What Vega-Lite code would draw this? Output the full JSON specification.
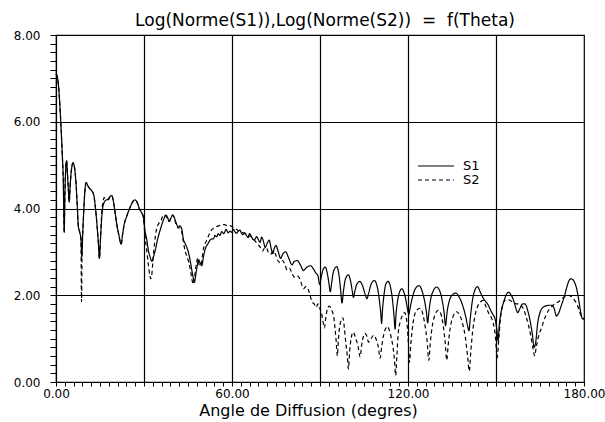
{
"$schema": "https://vega.github.io/schema/vega-lite/v6.json",
"width": 528, "height": 347,
"autosize": {"type": "none"},
"padding": {"left": 56, "top": 35, "right": 21, "bottom": 40},
"background": "white",
"config": {"view": {"stroke": "black", "strokeWidth": 1.2}, "font": "DejaVu Sans"},
"title": {"text": "Log(Norme(S1)),Log(Norme(S2))\u00a0\u00a0=\u00a0\u00a0f(Theta)", "fontSize": 17, "fontWeight": "normal", "font": "DejaVu Sans", "color": "black", "offset": 6, "dy": 7, "dx": 5},
"data": {"values": [
{"s":"S1","t":0,"v":7.1},{"s":"S1","t":0.4,"v":7.05},{"s":"S1","t":0.9,"v":6.8},{"s":"S1","t":1.3,"v":6.4},{"s":"S1","t":1.7,"v":5.9},{"s":"S1","t":2.1,"v":5.3},{"s":"S1","t":2.5,"v":4.6},{"s":"S1","t":2.8,"v":3.45},{"s":"S1","t":3.0,"v":4.2},{"s":"S1","t":3.3,"v":4.9},{"s":"S1","t":3.6,"v":5.1},{"s":"S1","t":3.9,"v":4.8},{"s":"S1","t":4.2,"v":4.45},{"s":"S1","t":4.5,"v":4.15},{"s":"S1","t":4.8,"v":4.5},{"s":"S1","t":5.2,"v":4.85},{"s":"S1","t":5.8,"v":5.05},{"s":"S1","t":6.3,"v":4.95},{"s":"S1","t":6.8,"v":4.6},{"s":"S1","t":7.3,"v":4.0},{"s":"S1","t":7.6,"v":3.6},{"s":"S1","t":8.1,"v":3.45},{"s":"S1","t":8.5,"v":3.3},{"s":"S1","t":8.8,"v":2.88},{"s":"S1","t":9.1,"v":3.4},{"s":"S1","t":9.5,"v":4.0},{"s":"S1","t":9.9,"v":4.45},{"s":"S1","t":10.3,"v":4.6},{"s":"S1","t":10.9,"v":4.52},{"s":"S1","t":11.6,"v":4.45},{"s":"S1","t":12.3,"v":4.4},{"s":"S1","t":12.9,"v":4.3},{"s":"S1","t":13.5,"v":3.98},{"s":"S1","t":14.0,"v":3.6},{"s":"S1","t":14.4,"v":3.25},{"s":"S1","t":14.8,"v":2.85},{"s":"S1","t":15.1,"v":3.2},{"s":"S1","t":15.5,"v":3.7},{"s":"S1","t":16.0,"v":4.05},{"s":"S1","t":16.8,"v":4.18},{"s":"S1","t":17.8,"v":4.22},{"s":"S1","t":18.5,"v":4.28},{"s":"S1","t":19.0,"v":4.3},{"s":"S1","t":19.6,"v":4.15},{"s":"S1","t":20.2,"v":3.88},{"s":"S1","t":20.8,"v":3.6},{"s":"S1","t":21.4,"v":3.4},{"s":"S1","t":22.2,"v":3.18},{"s":"S1","t":22.7,"v":3.4},{"s":"S1","t":23.3,"v":3.65},{"s":"S1","t":24.0,"v":3.8},{"s":"S1","t":24.8,"v":3.95},{"s":"S1","t":25.6,"v":4.08},{"s":"S1","t":26.3,"v":4.17},{"s":"S1","t":26.9,"v":4.2},{"s":"S1","t":27.6,"v":4.15},{"s":"S1","t":28.4,"v":4.0},{"s":"S1","t":29.2,"v":3.9},{"s":"S1","t":29.8,"v":3.8},{"s":"S1","t":30.3,"v":3.5},{"s":"S1","t":30.9,"v":3.3},{"s":"S1","t":31.5,"v":3.03},{"s":"S1","t":32.1,"v":2.88},{"s":"S1","t":32.7,"v":2.78},{"s":"S1","t":33.3,"v":2.9},{"s":"S1","t":33.9,"v":3.05},{"s":"S1","t":34.5,"v":3.25},{"s":"S1","t":35.5,"v":3.5},{"s":"S1","t":36.6,"v":3.73},{"s":"S1","t":37.5,"v":3.85},{"s":"S1","t":38.1,"v":3.78},{"s":"S1","t":38.6,"v":3.7},{"s":"S1","t":39.2,"v":3.78},{"s":"S1","t":39.8,"v":3.85},{"s":"S1","t":40.4,"v":3.78},{"s":"S1","t":40.9,"v":3.68},{"s":"S1","t":41.7,"v":3.57},{"s":"S1","t":42.3,"v":3.6},{"s":"S1","t":42.9,"v":3.52},{"s":"S1","t":43.4,"v":3.3},{"s":"S1","t":44.0,"v":3.2},{"s":"S1","t":44.6,"v":3.1},{"s":"S1","t":45.1,"v":3.0},{"s":"S1","t":45.6,"v":2.85},{"s":"S1","t":46.3,"v":2.58},{"s":"S1","t":46.8,"v":2.4},{"s":"S1","t":47.2,"v":2.3},{"s":"S1","t":47.6,"v":2.45},{"s":"S1","t":48.0,"v":2.62},{"s":"S1","t":48.6,"v":2.82},{"s":"S1","t":49.1,"v":2.75},{"s":"S1","t":49.7,"v":2.68},{"s":"S1","t":50.3,"v":2.9},{"s":"S1","t":50.8,"v":3.05},{"s":"S1","t":51.4,"v":3.15},{"s":"S1","t":51.9,"v":3.2},{"s":"S1","t":52.5,"v":3.27},{"s":"S1","t":53.1,"v":3.3},{"s":"S1","t":53.7,"v":3.3},{"s":"S1","t":54.2,"v":3.38},{"s":"S1","t":54.8,"v":3.35},{"s":"S1","t":55.3,"v":3.42},{"s":"S1","t":55.9,"v":3.38},{"s":"S1","t":56.5,"v":3.47},{"s":"S1","t":57.2,"v":3.42},{"s":"S1","t":58.0,"v":3.52},{"s":"S1","t":58.7,"v":3.44},{"s":"S1","t":59.3,"v":3.48},{"s":"S1","t":59.9,"v":3.45},{"s":"S1","t":60.5,"v":3.52},{"s":"S1","t":61.0,"v":3.46},{"s":"S1","t":61.6,"v":3.43},{"s":"S1","t":62.1,"v":3.48},{"s":"S1","t":62.7,"v":3.5},{"s":"S1","t":63.3,"v":3.42},{"s":"S1","t":63.8,"v":3.4},{"s":"S1","t":64.4,"v":3.44},{"s":"S1","t":64.9,"v":3.38},{"s":"S1","t":65.5,"v":3.33},{"s":"S1","t":66.0,"v":3.42},{"s":"S1","t":66.6,"v":3.36},{"s":"S1","t":67.3,"v":3.28},{"s":"S1","t":67.9,"v":3.3},{"s":"S1","t":68.4,"v":3.35},{"s":"S1","t":69.0,"v":3.28},{"s":"S1","t":69.6,"v":3.22},{"s":"S1","t":70.1,"v":3.34},{"s":"S1","t":70.7,"v":3.25},{"s":"S1","t":71.3,"v":3.1},{"s":"S1","t":72.0,"v":3.2},{"s":"S1","t":72.7,"v":3.27},{"s":"S1","t":73.3,"v":3.1},{"s":"S1","t":73.9,"v":2.96},{"s":"S1","t":74.4,"v":3.08},{"s":"S1","t":75.0,"v":3.15},{"s":"S1","t":75.7,"v":3.02},{"s":"S1","t":76.6,"v":2.85},{"s":"S1","t":77.3,"v":2.95},{"s":"S1","t":78.3,"v":3.0},{"s":"S1","t":79.2,"v":2.88},{"s":"S1","t":80.5,"v":2.7},{"s":"S1","t":81.2,"v":2.78},{"s":"S1","t":82.3,"v":2.8},{"s":"S1","t":83.3,"v":2.7},{"s":"S1","t":84.4,"v":2.57},{"s":"S1","t":85.2,"v":2.63},{"s":"S1","t":86.8,"v":2.68},{"s":"S1","t":87.8,"v":2.6},{"s":"S1","t":88.5,"v":2.52},{"s":"S1","t":89.3,"v":2.45},{"s":"S1","t":89.9,"v":2.25},{"s":"S1","t":90.5,"v":2.45},{"s":"S1","t":91.1,"v":2.6},{"s":"S1","t":91.8,"v":2.65},{"s":"S1","t":92.5,"v":2.5},{"s":"S1","t":93.0,"v":2.3},{"s":"S1","t":93.5,"v":2.08},{"s":"S1","t":94.0,"v":2.3},{"s":"S1","t":94.6,"v":2.55},{"s":"S1","t":95.7,"v":2.66},{"s":"S1","t":96.5,"v":2.45},{"s":"S1","t":97.0,"v":2.15},{"s":"S1","t":97.5,"v":1.82},{"s":"S1","t":98.0,"v":2.1},{"s":"S1","t":98.7,"v":2.38},{"s":"S1","t":99.7,"v":2.47},{"s":"S1","t":100.5,"v":2.3},{"s":"S1","t":101.0,"v":2.1},{"s":"S1","t":101.4,"v":1.95},{"s":"S1","t":101.9,"v":2.1},{"s":"S1","t":102.6,"v":2.26},{"s":"S1","t":103.6,"v":2.32},{"s":"S1","t":104.6,"v":2.2},{"s":"S1","t":105.4,"v":2.02},{"s":"S1","t":106.0,"v":1.92},{"s":"S1","t":106.6,"v":2.05},{"s":"S1","t":107.4,"v":2.25},{"s":"S1","t":108.5,"v":2.34},{"s":"S1","t":109.5,"v":2.2},{"s":"S1","t":110.3,"v":1.85},{"s":"S1","t":110.7,"v":1.6},{"s":"S1","t":111.0,"v":1.35},{"s":"S1","t":111.3,"v":1.65},{"s":"S1","t":111.8,"v":2.0},{"s":"S1","t":112.4,"v":2.25},{"s":"S1","t":113.2,"v":2.32},{"s":"S1","t":114.0,"v":2.2},{"s":"S1","t":114.7,"v":1.9},{"s":"S1","t":115.2,"v":1.55},{"s":"S1","t":115.6,"v":1.22},{"s":"S1","t":115.9,"v":1.55},{"s":"S1","t":116.4,"v":1.85},{"s":"S1","t":117.0,"v":2.05},{"s":"S1","t":117.9,"v":2.15},{"s":"S1","t":118.7,"v":2.05},{"s":"S1","t":119.4,"v":1.85},{"s":"S1","t":120.0,"v":1.62},{"s":"S1","t":120.3,"v":1.56},{"s":"S1","t":120.7,"v":1.7},{"s":"S1","t":121.5,"v":1.95},{"s":"S1","t":122.5,"v":2.15},{"s":"S1","t":123.8,"v":2.22},{"s":"S1","t":124.8,"v":2.1},{"s":"S1","t":125.7,"v":1.85},{"s":"S1","t":126.3,"v":1.6},{"s":"S1","t":126.7,"v":1.36},{"s":"S1","t":127.1,"v":1.6},{"s":"S1","t":127.7,"v":1.9},{"s":"S1","t":128.6,"v":2.1},{"s":"S1","t":129.7,"v":2.19},{"s":"S1","t":130.7,"v":2.12},{"s":"S1","t":131.6,"v":1.9},{"s":"S1","t":132.3,"v":1.6},{"s":"S1","t":132.8,"v":1.3},{"s":"S1","t":133.3,"v":1.6},{"s":"S1","t":134.0,"v":1.85},{"s":"S1","t":135.0,"v":2.0},{"s":"S1","t":136.3,"v":2.05},{"s":"S1","t":137.5,"v":1.95},{"s":"S1","t":138.7,"v":1.75},{"s":"S1","t":139.7,"v":1.5},{"s":"S1","t":140.3,"v":1.3},{"s":"S1","t":140.8,"v":1.18},{"s":"S1","t":141.2,"v":1.45},{"s":"S1","t":141.9,"v":1.85},{"s":"S1","t":142.8,"v":2.12},{"s":"S1","t":143.7,"v":2.2},{"s":"S1","t":144.6,"v":2.08},{"s":"S1","t":145.5,"v":1.95},{"s":"S1","t":146.5,"v":1.85},{"s":"S1","t":147.3,"v":1.78},{"s":"S1","t":148.2,"v":1.65},{"s":"S1","t":149.0,"v":1.55},{"s":"S1","t":149.7,"v":1.45},{"s":"S1","t":150.3,"v":1.2},{"s":"S1","t":150.7,"v":0.95},{"s":"S1","t":151.1,"v":1.3},{"s":"S1","t":151.7,"v":1.6},{"s":"S1","t":152.5,"v":1.82},{"s":"S1","t":153.3,"v":1.98},{"s":"S1","t":154.2,"v":2.07},{"s":"S1","t":155.0,"v":2.02},{"s":"S1","t":155.9,"v":1.9},{"s":"S1","t":156.7,"v":1.72},{"s":"S1","t":157.4,"v":1.6},{"s":"S1","t":158.2,"v":1.7},{"s":"S1","t":159.1,"v":1.8},{"s":"S1","t":159.9,"v":1.8},{"s":"S1","t":160.8,"v":1.65},{"s":"S1","t":161.6,"v":1.42},{"s":"S1","t":162.4,"v":1.1},{"s":"S1","t":163.0,"v":0.8},{"s":"S1","t":163.5,"v":0.9},{"s":"S1","t":164.2,"v":1.35},{"s":"S1","t":165.0,"v":1.6},{"s":"S1","t":166.0,"v":1.72},{"s":"S1","t":167.3,"v":1.76},{"s":"S1","t":168.8,"v":1.77},{"s":"S1","t":169.8,"v":1.7},{"s":"S1","t":170.6,"v":1.52},{"s":"S1","t":171.3,"v":1.58},{"s":"S1","t":172.2,"v":1.75},{"s":"S1","t":173.2,"v":1.95},{"s":"S1","t":174.2,"v":2.2},{"s":"S1","t":175.0,"v":2.35},{"s":"S1","t":175.7,"v":2.38},{"s":"S1","t":176.6,"v":2.32},{"s":"S1","t":177.5,"v":2.15},{"s":"S1","t":178.3,"v":1.85},{"s":"S1","t":178.9,"v":1.6},{"s":"S1","t":179.4,"v":1.47},{"s":"S1","t":180.0,"v":1.46},
{"s":"S2","t":0,"v":7.1},{"s":"S2","t":0.4,"v":7.05},{"s":"S2","t":0.9,"v":6.8},{"s":"S2","t":1.3,"v":6.4},{"s":"S2","t":1.7,"v":5.9},{"s":"S2","t":2.1,"v":5.3},{"s":"S2","t":2.5,"v":4.6},{"s":"S2","t":2.8,"v":3.45},{"s":"S2","t":3.0,"v":4.2},{"s":"S2","t":3.3,"v":4.9},{"s":"S2","t":3.6,"v":5.1},{"s":"S2","t":3.9,"v":4.8},{"s":"S2","t":4.2,"v":4.45},{"s":"S2","t":4.5,"v":4.15},{"s":"S2","t":4.8,"v":4.5},{"s":"S2","t":5.2,"v":4.85},{"s":"S2","t":5.8,"v":5.05},{"s":"S2","t":6.3,"v":4.95},{"s":"S2","t":6.8,"v":4.6},{"s":"S2","t":7.3,"v":4.0},{"s":"S2","t":7.6,"v":3.6},{"s":"S2","t":8.1,"v":3.45},{"s":"S2","t":8.5,"v":3.3},{"s":"S2","t":8.7,"v":1.85},{"s":"S2","t":8.9,"v":3.1},{"s":"S2","t":9.1,"v":3.4},{"s":"S2","t":9.5,"v":4.0},{"s":"S2","t":9.9,"v":4.45},{"s":"S2","t":10.3,"v":4.6},{"s":"S2","t":10.9,"v":4.52},{"s":"S2","t":11.6,"v":4.45},{"s":"S2","t":12.3,"v":4.4},{"s":"S2","t":12.9,"v":4.3},{"s":"S2","t":13.5,"v":3.98},{"s":"S2","t":14.0,"v":3.6},{"s":"S2","t":14.4,"v":3.25},{"s":"S2","t":14.8,"v":2.85},{"s":"S2","t":15.1,"v":3.2},{"s":"S2","t":15.5,"v":3.8},{"s":"S2","t":16.0,"v":4.15},{"s":"S2","t":16.4,"v":4.25},{"s":"S2","t":17.0,"v":4.22},{"s":"S2","t":17.8,"v":4.2},{"s":"S2","t":18.5,"v":4.28},{"s":"S2","t":19.0,"v":4.3},{"s":"S2","t":19.6,"v":4.15},{"s":"S2","t":20.2,"v":3.88},{"s":"S2","t":20.8,"v":3.6},{"s":"S2","t":21.4,"v":3.4},{"s":"S2","t":22.2,"v":3.18},{"s":"S2","t":22.7,"v":3.4},{"s":"S2","t":23.3,"v":3.65},{"s":"S2","t":24.0,"v":3.8},{"s":"S2","t":24.8,"v":3.95},{"s":"S2","t":25.6,"v":4.08},{"s":"S2","t":26.3,"v":4.17},{"s":"S2","t":26.9,"v":4.2},{"s":"S2","t":27.6,"v":4.15},{"s":"S2","t":28.4,"v":4.0},{"s":"S2","t":29.2,"v":3.9},{"s":"S2","t":29.8,"v":3.8},{"s":"S2","t":30.3,"v":3.4},{"s":"S2","t":30.9,"v":3.05},{"s":"S2","t":31.5,"v":2.7},{"s":"S2","t":32.0,"v":2.45},{"s":"S2","t":32.3,"v":2.38},{"s":"S2","t":32.7,"v":2.5},{"s":"S2","t":33.1,"v":2.85},{"s":"S2","t":33.6,"v":3.2},{"s":"S2","t":34.2,"v":3.5},{"s":"S2","t":35.0,"v":3.65},{"s":"S2","t":35.8,"v":3.72},{"s":"S2","t":36.6,"v":3.85},{"s":"S2","t":37.5,"v":3.82},{"s":"S2","t":38.1,"v":3.75},{"s":"S2","t":38.6,"v":3.7},{"s":"S2","t":39.2,"v":3.8},{"s":"S2","t":39.8,"v":3.85},{"s":"S2","t":40.4,"v":3.76},{"s":"S2","t":40.9,"v":3.65},{"s":"S2","t":41.7,"v":3.55},{"s":"S2","t":42.3,"v":3.55},{"s":"S2","t":42.9,"v":3.45},{"s":"S2","t":43.5,"v":3.2},{"s":"S2","t":44.1,"v":3.0},{"s":"S2","t":44.7,"v":2.88},{"s":"S2","t":45.3,"v":2.75},{"s":"S2","t":45.9,"v":2.55},{"s":"S2","t":46.4,"v":2.35},{"s":"S2","t":46.8,"v":2.25},{"s":"S2","t":47.2,"v":2.4},{"s":"S2","t":47.7,"v":2.65},{"s":"S2","t":48.3,"v":2.85},{"s":"S2","t":48.9,"v":2.68},{"s":"S2","t":49.5,"v":2.72},{"s":"S2","t":50.2,"v":3.05},{"s":"S2","t":50.9,"v":3.2},{"s":"S2","t":51.6,"v":3.3},{"s":"S2","t":52.3,"v":3.42},{"s":"S2","t":53.0,"v":3.5},{"s":"S2","t":53.8,"v":3.55},{"s":"S2","t":54.6,"v":3.58},{"s":"S2","t":55.5,"v":3.6},{"s":"S2","t":56.5,"v":3.62},{"s":"S2","t":57.5,"v":3.63},{"s":"S2","t":58.5,"v":3.6},{"s":"S2","t":59.5,"v":3.6},{"s":"S2","t":60.5,"v":3.56},{"s":"S2","t":61.5,"v":3.52},{"s":"S2","t":62.5,"v":3.48},{"s":"S2","t":63.5,"v":3.45},{"s":"S2","t":64.5,"v":3.42},{"s":"S2","t":65.5,"v":3.38},{"s":"S2","t":66.5,"v":3.35},{"s":"S2","t":67.5,"v":3.28},{"s":"S2","t":68.5,"v":3.2},{"s":"S2","t":69.5,"v":3.12},{"s":"S2","t":70.4,"v":3.02},{"s":"S2","t":71.0,"v":3.08},{"s":"S2","t":71.7,"v":3.1},{"s":"S2","t":72.5,"v":2.97},{"s":"S2","t":73.3,"v":2.95},{"s":"S2","t":74.0,"v":3.02},{"s":"S2","t":74.8,"v":2.95},{"s":"S2","t":75.6,"v":2.8},{"s":"S2","t":76.5,"v":2.75},{"s":"S2","t":77.2,"v":2.8},{"s":"S2","t":78.0,"v":2.72},{"s":"S2","t":78.8,"v":2.58},{"s":"S2","t":79.6,"v":2.62},{"s":"S2","t":80.4,"v":2.52},{"s":"S2","t":81.2,"v":2.42},{"s":"S2","t":82.0,"v":2.45},{"s":"S2","t":82.8,"v":2.42},{"s":"S2","t":83.6,"v":2.28},{"s":"S2","t":84.4,"v":2.15},{"s":"S2","t":85.2,"v":2.2},{"s":"S2","t":85.9,"v":2.15},{"s":"S2","t":86.6,"v":2.0},{"s":"S2","t":87.3,"v":1.85},{"s":"S2","t":88.0,"v":1.8},{"s":"S2","t":88.7,"v":1.72},{"s":"S2","t":89.3,"v":1.8},{"s":"S2","t":89.9,"v":1.7},{"s":"S2","t":90.5,"v":1.6},{"s":"S2","t":91.0,"v":1.4},{"s":"S2","t":91.5,"v":1.25},{"s":"S2","t":92.0,"v":1.5},{"s":"S2","t":92.6,"v":1.7},{"s":"S2","t":93.2,"v":1.75},{"s":"S2","t":94.0,"v":1.65},{"s":"S2","t":94.7,"v":1.5},{"s":"S2","t":95.1,"v":1.25},{"s":"S2","t":95.5,"v":0.95},{"s":"S2","t":95.9,"v":0.6},{"s":"S2","t":96.3,"v":1.0},{"s":"S2","t":96.9,"v":1.35},{"s":"S2","t":97.8,"v":1.48},{"s":"S2","t":98.3,"v":1.25},{"s":"S2","t":98.8,"v":0.9},{"s":"S2","t":99.3,"v":0.6},{"s":"S2","t":99.7,"v":0.3},{"s":"S2","t":100.1,"v":0.7},{"s":"S2","t":100.6,"v":1.0},{"s":"S2","t":101.3,"v":1.15},{"s":"S2","t":102.2,"v":1.0},{"s":"S2","t":102.9,"v":0.85},{"s":"S2","t":103.7,"v":0.58},{"s":"S2","t":104.2,"v":0.85},{"s":"S2","t":104.8,"v":1.05},{"s":"S2","t":105.3,"v":1.12},{"s":"S2","t":106.0,"v":1.05},{"s":"S2","t":106.5,"v":0.92},{"s":"S2","t":107.2,"v":0.98},{"s":"S2","t":108.4,"v":1.08},{"s":"S2","t":109.3,"v":0.95},{"s":"S2","t":109.9,"v":0.8},{"s":"S2","t":110.5,"v":0.55},{"s":"S2","t":111.0,"v":0.8},{"s":"S2","t":111.6,"v":1.05},{"s":"S2","t":112.3,"v":1.22},{"s":"S2","t":112.9,"v":1.28},{"s":"S2","t":113.7,"v":1.18},{"s":"S2","t":114.3,"v":1.02},{"s":"S2","t":114.9,"v":0.8},{"s":"S2","t":115.4,"v":0.5},{"s":"S2","t":115.8,"v":0.15},{"s":"S2","t":116.2,"v":0.6},{"s":"S2","t":116.7,"v":1.15},{"s":"S2","t":117.4,"v":1.4},{"s":"S2","t":118.2,"v":1.55},{"s":"S2","t":118.9,"v":1.6},{"s":"S2","t":119.5,"v":1.45},{"s":"S2","t":120.0,"v":1.05},{"s":"S2","t":120.5,"v":0.45},{"s":"S2","t":121.0,"v":0.9},{"s":"S2","t":121.7,"v":1.35},{"s":"S2","t":122.5,"v":1.6},{"s":"S2","t":123.4,"v":1.68},{"s":"S2","t":124.2,"v":1.7},{"s":"S2","t":125.0,"v":1.58},{"s":"S2","t":125.8,"v":1.3},{"s":"S2","t":126.5,"v":0.95},{"s":"S2","t":127.1,"v":0.5},{"s":"S2","t":127.6,"v":0.9},{"s":"S2","t":128.3,"v":1.3},{"s":"S2","t":129.2,"v":1.55},{"s":"S2","t":130.3,"v":1.65},{"s":"S2","t":131.3,"v":1.55},{"s":"S2","t":132.1,"v":1.25},{"s":"S2","t":132.7,"v":0.9},{"s":"S2","t":133.2,"v":0.5},{"s":"S2","t":133.7,"v":0.85},{"s":"S2","t":134.4,"v":1.25},{"s":"S2","t":135.3,"v":1.5},{"s":"S2","t":136.5,"v":1.62},{"s":"S2","t":137.6,"v":1.55},{"s":"S2","t":138.6,"v":1.35},{"s":"S2","t":139.5,"v":1.05},{"s":"S2","t":140.3,"v":0.6},{"s":"S2","t":140.9,"v":0.25},{"s":"S2","t":141.4,"v":0.7},{"s":"S2","t":142.1,"v":1.2},{"s":"S2","t":142.9,"v":1.55},{"s":"S2","t":143.8,"v":1.75},{"s":"S2","t":144.8,"v":1.85},{"s":"S2","t":145.6,"v":1.88},{"s":"S2","t":146.5,"v":1.75},{"s":"S2","t":147.4,"v":1.6},{"s":"S2","t":148.3,"v":1.5},{"s":"S2","t":149.1,"v":1.35},{"s":"S2","t":149.8,"v":1.05},{"s":"S2","t":150.4,"v":0.55},{"s":"S2","t":150.9,"v":0.95},{"s":"S2","t":151.5,"v":1.45},{"s":"S2","t":152.2,"v":1.75},{"s":"S2","t":153.0,"v":1.88},{"s":"S2","t":153.9,"v":1.9},{"s":"S2","t":154.8,"v":1.88},{"s":"S2","t":155.8,"v":1.84},{"s":"S2","t":156.8,"v":1.8},{"s":"S2","t":157.7,"v":1.8},{"s":"S2","t":158.6,"v":1.76},{"s":"S2","t":159.4,"v":1.68},{"s":"S2","t":160.3,"v":1.5},{"s":"S2","t":161.1,"v":1.3},{"s":"S2","t":161.9,"v":1.05},{"s":"S2","t":162.6,"v":0.78},{"s":"S2","t":163.2,"v":0.6},{"s":"S2","t":163.7,"v":0.8},{"s":"S2","t":164.5,"v":1.05},{"s":"S2","t":165.5,"v":1.25},{"s":"S2","t":166.5,"v":1.45},{"s":"S2","t":167.6,"v":1.62},{"s":"S2","t":168.8,"v":1.72},{"s":"S2","t":170.0,"v":1.8},{"s":"S2","t":171.3,"v":1.85},{"s":"S2","t":172.5,"v":1.92},{"s":"S2","t":173.6,"v":1.98},{"s":"S2","t":174.7,"v":2.0},{"s":"S2","t":175.8,"v":1.96},{"s":"S2","t":176.8,"v":1.88},{"s":"S2","t":177.7,"v":1.78},{"s":"S2","t":178.6,"v":1.6},{"s":"S2","t":179.3,"v":1.47},{"s":"S2","t":180.0,"v":1.45}
]},
"mark": {"type": "line", "interpolate": "monotone", "strokeWidth": 1.2, "color": "black"},
"encoding": {
 "x": {"field": "t", "type": "quantitative", "scale": {"domain": [0, 180], "nice": false, "zero": false},
  "axis": {"title": "Angle de Diffusion (degres)", "titleFont": "DejaVu Sans", "titleFontSize": 16, "titleFontWeight": "normal", "titleColor": "black", "titleX": 252, "titlePadding": 3,
   "values": [0,3,6,9,12,15,18,21,24,27,30,33,36,39,42,45,48,51,54,57,60,63,66,69,72,75,78,81,84,87,90,93,96,99,102,105,108,111,114,117,120,123,126,129,132,135,138,141,144,147,150,153,156,159,162,165,168,171,174,177,180],
   "labelExpr": "datum.value % 60 === 0 ? format(datum.value, '.2f') : ''", "labelOverlap": false, "labelFlush": false, "labelFontSize": 12, "labelColor": "black", "labelPadding": 2,
   "tickSize": 4, "tickColor": "black", "tickWidth": 1, "domainColor": "black", "domainWidth": 1.2,
   "grid": true, "gridColor": "black", "gridWidth": 1.2, "gridOpacity": {"condition": {"test": "datum.value % 30 === 0 && datum.value > 0 && datum.value < 180", "value": 1}, "value": 0}}},
 "y": {"field": "v", "type": "quantitative", "scale": {"domain": [0, 8], "nice": false},
  "axis": {"title": null,
   "values": [0,0.2,0.4,0.6,0.8,1,1.2,1.4,1.6,1.8,2,2.2,2.4,2.6,2.8,3,3.2,3.4,3.6,3.8,4,4.2,4.4,4.6,4.8,5,5.2,5.4,5.6,5.8,6,6.2,6.4,6.6,6.8,7,7.2,7.4,7.6,7.8,8],
   "labelExpr": "datum.value % 2 === 0 ? format(datum.value, '.2f') : ''", "labelOverlap": false, "labelFlush": false, "labelFontSize": 12, "labelColor": "black", "labelPadding": 10,
   "tickSize": 6, "tickColor": "black", "tickWidth": 1, "domainColor": "black", "domainWidth": 1.2,
   "grid": true, "gridColor": "black", "gridWidth": 1.2, "gridOpacity": {"condition": {"test": "datum.value % 2 === 0 && datum.value > 0 && datum.value < 8", "value": 1}, "value": 0}}},
 "strokeDash": {"field": "s", "type": "nominal", "scale": {"domain": ["S1", "S2"], "range": [[1, 0], [4, 3]]},
  "legend": {"title": null, "orient": "none", "legendX": 361, "legendY": 124, "symbolType": "stroke", "symbolSize": 1296, "symbolStrokeWidth": 1.2, "symbolStrokeColor": "black", "clipHeight": 14, "rowPadding": 0, "labelOffset": 8, "labelFontSize": 13, "labelColor": "black", "labelFont": "DejaVu Sans"}}
}
}
